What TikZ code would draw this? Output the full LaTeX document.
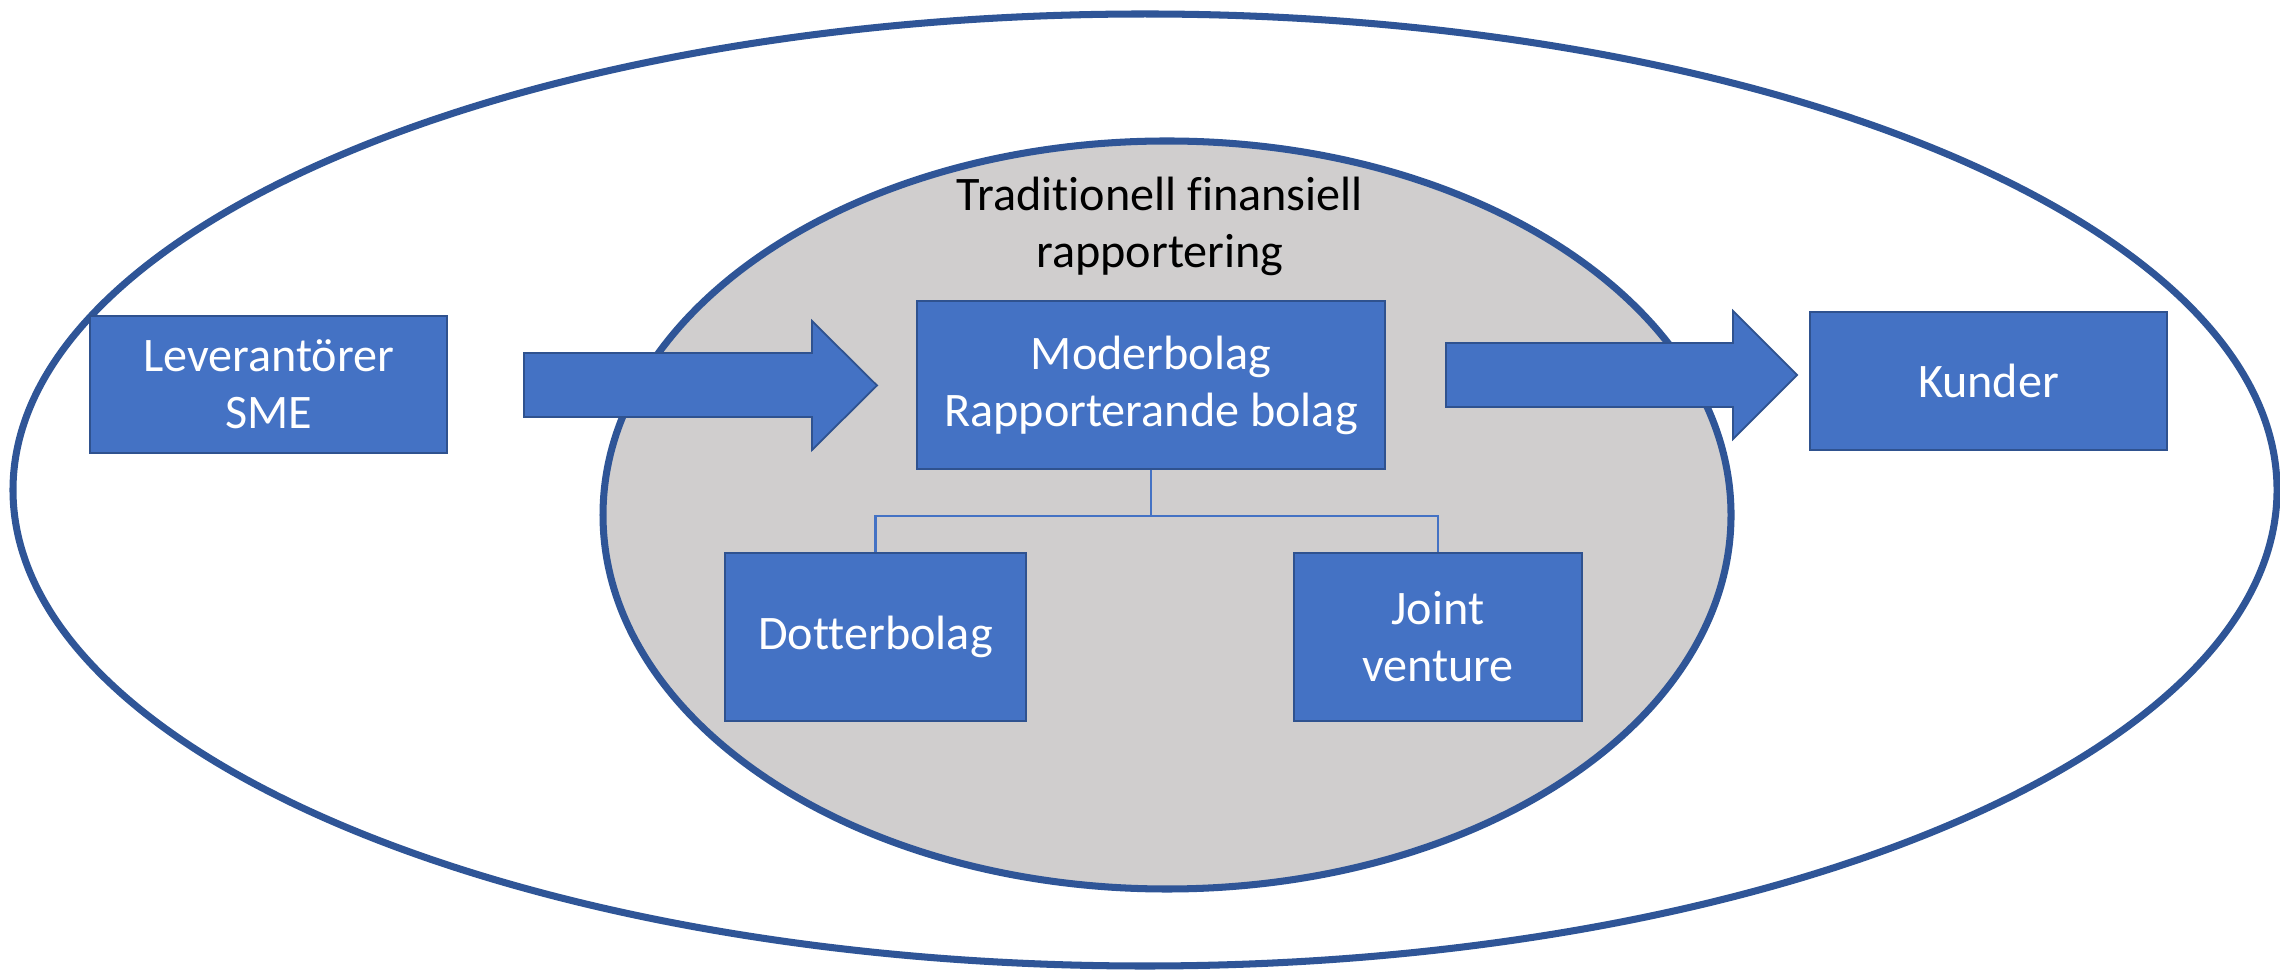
\documentclass[tikz,border=0pt]{standalone}
\usepackage{fontspec}
\setmainfont{Carlito}[RawFeature=-liga]
\definecolor{ringblue}{HTML}{2F5597}
\definecolor{boxblue}{HTML}{4472C4}
\definecolor{boxedge}{HTML}{2F528F}
\definecolor{innergray}{HTML}{D0CECE}
\tikzset{
  ring/.style={draw=ringblue, line width=2pt},
  bluebox/.style={draw=boxedge, fill=boxblue, line width=0.5pt, text=white,
    align=center, inner sep=0pt, font=\fontsize{13.7}{16.2}\selectfont},
  blockarrow/.style={draw=boxedge, fill=boxblue, line width=0.5pt, line join=miter},
  tree/.style={draw=boxblue, line width=0.6pt},
  caption/.style={align=center, inner sep=0pt, font=\fontsize{13.7}{16.2}\selectfont}
}
\begin{document}
\begin{tikzpicture}[x=0.01cm, y=-0.01cm]
\useasboundingbox (0,0) rectangle (2280,971);
\fill[white] (0,0) rectangle (2280,971);
% outer ellipse
\draw[ring, fill=white] (1145,490) ellipse [x radius=1132, y radius=476];
% inner ellipse
\draw[ring, fill=innergray] (1167,515) ellipse [x radius=564, y radius=374];
\node[caption] (title) at (1160,226) {Traditionell finansiell\\rapportering};
% boxes
\node[bluebox, minimum width=3.57cm, minimum height=1.37cm] (lev) at (268.5,384.5) {Leverant\"orer\\SME};
\node[bluebox, minimum width=4.68cm, minimum height=1.68cm] (mod) at (1151,385) {Moderbolag\\Rapporterande bolag};
\node[bluebox, minimum width=3.01cm, minimum height=1.68cm] (dot) at (875.5,637) {Dotterbolag};
\node[bluebox, minimum width=2.88cm, minimum height=1.68cm] (jv) at (1438,637) {Joint\\venture};
\node[bluebox, minimum width=3.57cm, minimum height=1.38cm] (kun) at (1988.5,381) {Kunder};
% block arrows
\draw[blockarrow] (524,353) -- (812,353) -- (812,321) -- (877,385.5) -- (812,450) -- (812,417) -- (524,417) -- cycle;
\draw[blockarrow] (1446,343) -- (1733,343) -- (1733,311) -- (1797,375) -- (1733,439) -- (1733,407) -- (1446,407) -- cycle;
% tree connectors
\coordinate (bar) at (1151,516);
\draw[tree] (mod.south) -- (bar);
\draw[tree] (bar) -| (dot.north);
\draw[tree] (bar) -| (jv.north);
\end{tikzpicture}
\end{document}
